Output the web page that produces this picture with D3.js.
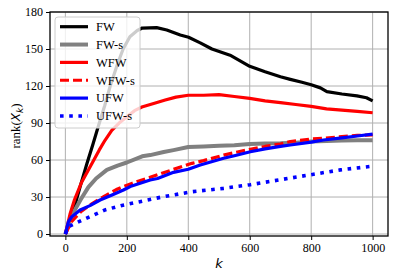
<!DOCTYPE html>
<html>
<head>
<meta charset="utf-8">
<script src="https://cdn.jsdelivr.net/npm/d3@7"></script>
<style>
  body { margin: 0; background: #fff; }
  svg { display: block; }
</style>
</head>
<body>
<div id="chart"></div>
<script>
//dimensions of the figure
var width = 399;
var height = 278;

// values, [k, rank]
var FW = [[0,0],[25,18],[50,40],[70,57],[90,73],[108,88],[128,104],[146,120],[170,138],[188,150],
  [210,160],[234,165],[250,167],[297,167.3],[330,165.4],[374,161.4],[401,159.5],[439,155],
  [477,150],[536,145],[600,136],[650,131.5],[700,127.5],[732,125.4],[770,123],[800,121],
  [830,118.5],[851,115.5],[900,113.5],[949,112],[980,110.5],[1000,108]];
var FWs = [[0,0],[15,12],[32,20],[50,28],[75,38],[100,45],[135,52],[170,55.5],[200,58],[250,63],
  [276,64],[320,66.5],[352,68],[400,70.5],[450,71],[500,71.5],[550,72],[600,73],[650,73.3],
  [700,73.5],[750,74],[800,75],[850,75.5],[900,75.8],[950,76],[1000,76]];
var WFW = [[0,0],[15,16],[30,28],[53,42],[86,57],[110,68],[129,76],[151,84],[175,90],[200,95],
  [225,100],[249,103],[290,106],[325,108.6],[360,111],[400,112.5],[450,112.5],[500,113],
  [550,111.5],[600,110],[650,108],[700,106.5],[750,105],[800,103.5],[850,101.5],[900,100.5],
  [950,99.5],[1000,98.3]];
var WFWs = [[0,0],[20,10],[50,18],[80,23.5],[129,31],[170,36.5],[216,41],[276,46],[347,52],
  [412,57.3],[450,59.5],[515,64],[560,66.5],[602,68.7],[650,71],[700,73],[732,75],[800,77],
  [840,77.6],[900,79],[950,80],[1000,80.3]];
var UFW = [[0,0],[10,10],[21,14],[48,19.5],[80,23],[113,27.6],[150,31.5],[189,35.7],[216,39],
  [276,43.8],[300,45],[352,50],[400,52.5],[439,56],[515,61.4],[550,63.5],[602,66.7],[650,69],
  [700,71],[732,72.2],[800,74.5],[840,76.2],[900,78],[950,79.5],[1000,81]];
var UFWs = [[0,0],[10,6],[53,11],[129,19.5],[180,23],[238,26],[314,30],[412,34.3],[515,37],
  [602,40],[699,44],[797,48],[895,52],[1000,55]];

var xTicks = [0, 200, 400, 600, 800, 1000];
var yTicks = [0, 30, 60, 90, 120, 150, 180];

var series = [
  {name: "FW",    data: FW,   color: "#000000", width: 3.2, dash: null},
  {name: "FW-s",  data: FWs,  color: "#808080", width: 4,   dash: null},
  {name: "WFW",   data: WFW,  color: "#ff0000", width: 3.2, dash: null},
  {name: "WFW-s", data: WFWs, color: "#ff0000", width: 3.2, dash: "9,4"},
  {name: "UFW",   data: UFW,  color: "#0000ff", width: 3.2, dash: null},
  {name: "UFW-s", data: UFWs, color: "#0000ff", width: 3.6, dash: "3.6,5.6"}
];

// plot area edges
var pLeft = 50, pRight = 388, pTop = 12, pBottom = 236;

var x = d3.scaleLinear().domain([-50, 1050]).range([pLeft, pRight]);
var y = d3.scaleLinear().domain([-1.6, 180]).range([pBottom, pTop]);

var svg = d3.select("#chart")
  .append("svg")
    .attr("width", width)
    .attr("height", height);

var serif = "'Liberation Serif', 'Times New Roman', serif";

// grid
svg.append("g")
  .selectAll("line")
  .data(xTicks)
  .enter()
  .append("line")
    .attr("x1", function(d) { return x(d); })
    .attr("x2", function(d) { return x(d); })
    .attr("y1", pTop)
    .attr("y2", pBottom)
    .style("stroke", "#b0b0b0")
    .style("stroke-width", 1);
svg.append("g")
  .selectAll("line")
  .data(yTicks)
  .enter()
  .append("line")
    .attr("x1", pLeft)
    .attr("x2", pRight)
    .attr("y1", function(d) { return y(d); })
    .attr("y2", function(d) { return y(d); })
    .style("stroke", "#b0b0b0")
    .style("stroke-width", 1);

// the curves
var line = d3.line()
  .x(function(d) { return x(d[0]); })
  .y(function(d) { return y(d[1]); });

svg.append("clipPath").attr("id", "clip")
  .append("rect")
    .attr("x", pLeft).attr("y", pTop)
    .attr("width", pRight - pLeft).attr("height", pBottom - pTop);

svg.append("g")
  .attr("clip-path", "url(#clip)")
  .selectAll("path")
  .data(series)
  .enter()
  .append("path")
    .attr("d", function(d) { return line(d.data); })
    .style("fill", "none")
    .style("stroke", function(d) { return d.color; })
    .style("stroke-width", function(d) { return d.width; })
    .style("stroke-dasharray", function(d) { return d.dash; })
    .style("stroke-linejoin", "round");

// axes
var xAxis = svg.append("g")
  .attr("transform", "translate(0," + pBottom + ")")
  .call(d3.axisBottom(x).tickValues(xTicks).tickFormat(d3.format("d"))
    .tickSize(4).tickPadding(3).tickSizeOuter(0));
var yAxis = svg.append("g")
  .attr("transform", "translate(" + pLeft + ",0)")
  .call(d3.axisLeft(y).tickValues(yTicks).tickFormat(d3.format("d"))
    .tickSize(4).tickPadding(3).tickSizeOuter(0));

[xAxis, yAxis].forEach(function(a) {
  a.select(".domain").remove();
  a.selectAll(".tick line").style("stroke", "#000").style("stroke-width", 1);
  a.selectAll(".tick text")
    .style("font-family", serif)
    .style("font-size", "12px")
    .style("fill", "#000");
});

// frame
svg.append("rect")
  .attr("x", pLeft).attr("y", pTop)
  .attr("width", pRight - pLeft).attr("height", pBottom - pTop)
  .style("fill", "none")
  .style("stroke", "#000")
  .style("stroke-width", 1.3);

// axis labels
svg.append("text")
  .attr("x", (pLeft + pRight) / 2)
  .attr("y", 268)
  .attr("text-anchor", "middle")
  .style("font-family", "'DejaVu Sans', sans-serif")
  .style("font-style", "italic")
  .style("font-size", "13px")
  .text("k");

var ylab = svg.append("text")
  .attr("transform", "translate(20," + ((pTop + pBottom) / 2 + 2) + ") rotate(-90)")
  .attr("text-anchor", "middle")
  .style("font-family", serif)
  .style("font-size", "13px");
ylab.append("tspan").text("rank(");
ylab.append("tspan")
  .style("font-family", "'DejaVu Sans', sans-serif")
  .style("font-style", "italic")
  .style("font-size", "12px")
  .text("X");
ylab.append("tspan")
  .attr("dy", 3)
  .style("font-family", "'DejaVu Sans', sans-serif")
  .style("font-style", "italic")
  .style("font-size", "9px")
  .text("k");
ylab.append("tspan").attr("dy", -3).text(")");

// legend
var legend = svg.append("g");
legend.append("rect")
  .attr("x", 55).attr("y", 17)
  .attr("width", 85).attr("height", 111)
  .attr("rx", 3)
  .style("fill", "#fff")
  .style("fill-opacity", 0.8)
  .style("stroke", "#cccccc")
  .style("stroke-width", 1);

var rows = legend.selectAll("g.row")
  .data(series)
  .enter()
  .append("g")
    .attr("class", "row")
    .attr("transform", function(d, i) { return "translate(0," + (26.7 + i * 17.85) + ")"; });
rows.append("line")
  .attr("x1", 60).attr("x2", 88)
  .style("stroke", function(d) { return d.color; })
  .style("stroke-width", function(d) { return d.width; })
  .style("stroke-dasharray", function(d) { return d.dash; });
rows.append("text")
  .attr("x", 96)
  .attr("dy", "0.35em")
  .style("font-family", serif)
  .style("font-size", "12.5px")
  .text(function(d) { return d.name; });
</script>
</body>
</html>
